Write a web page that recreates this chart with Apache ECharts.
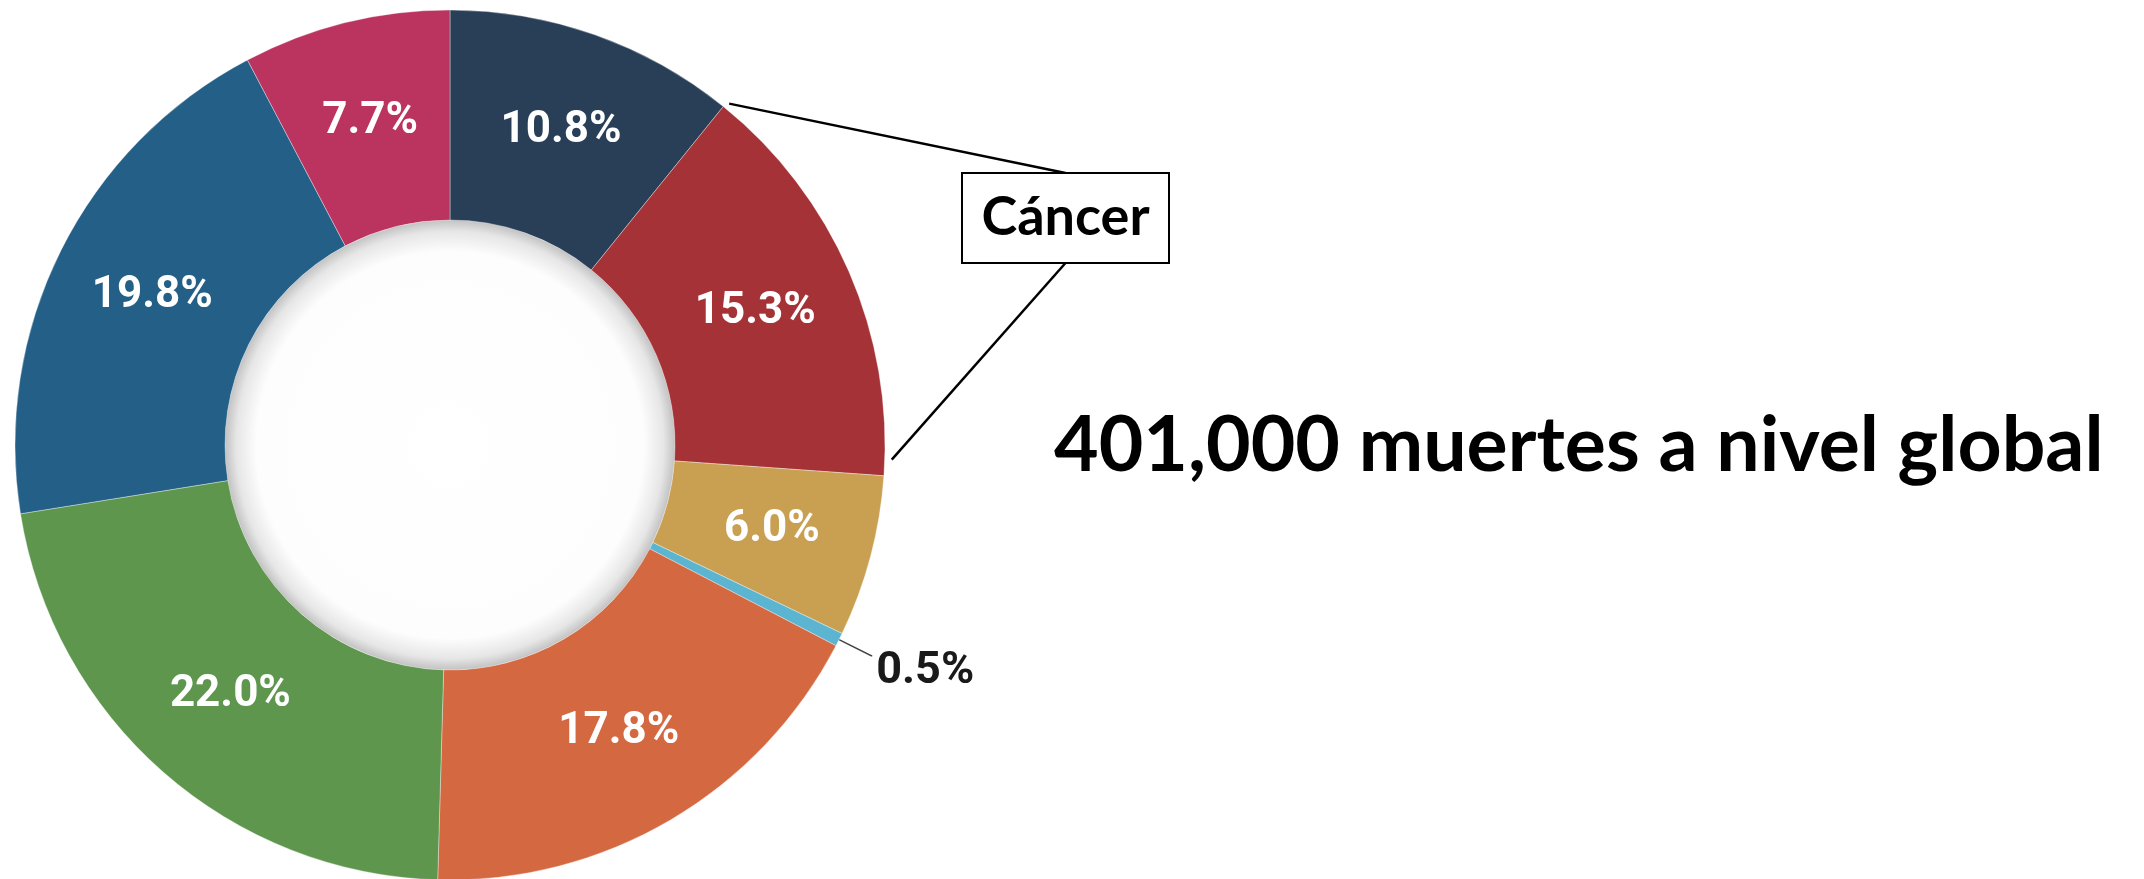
<!DOCTYPE html>
<html>
<head>
<meta charset="utf-8">
<title>401,000 muertes a nivel global</title>
<script src="https://cdn.jsdelivr.net/npm/echarts@6/dist/echarts.min.js"></script>
<style>
  html, body { margin: 0; padding: 0; background: #fff; }
  #chart { width: 2144px; height: 879px; }
</style>
</head>
<body>
<div id="chart"></div>
<script>
// porcentajes, en sentido horario desde arriba
const shares = [10.8, 15.3, 6.0, 0.5, 17.8, 22.0, 19.8, 7.7]
const colors = ['#293f57', '#a53236', '#c9a052', '#5bb5d1', '#d36841', '#5e964e', '#235f87', '#bb335f']
const calloutIndex = 1
const calloutText = 'Cáncer'
const totalText = '401,000 muertes a nivel global'
const outsideIndex = 3 // el 0.5% va fuera con linea

const center = [450, 445]
const radius = [225, 435]
const labelFont = 'Roboto, "Liberation Sans", sans-serif'

const chart = echarts.init(document.getElementById('chart'))

const total = shares.reduce((a, b) => a + b, 0)
// punto en el borde exterior para una fraccion acumulada (0 = arriba)
function ringPoint (frac, r) {
  const a = frac * Math.PI * 2
  return [center[0] + r * Math.sin(a), center[1] - r * Math.cos(a)]
}
const before = shares.slice(0, calloutIndex).reduce((a, b) => a + b, 0)
const p0 = ringPoint(before / total + 0.001, radius[1] + 6)
const p1 = ringPoint((before + shares[calloutIndex]) / total - 0.006, radius[1] + 7)

const box = { x: 962, y: 173, width: 207, height: 90 }

const data = shares.map((v, i) => {
  const item = { value: v, itemStyle: { color: colors[i] } }
  if (i === outsideIndex) {
    item.label = {
      position: 'outside',
      distanceToLabelLine: 4,
      // linea vacia arriba para bajar el texto respecto a la linea
      formatter: p => '{gap| }\n{out|' + p.value.toFixed(1) + '%}'
    }
    item.labelLine = {
      show: true,
      length: 36,
      length2: 1,
      lineStyle: { color: '#444', width: 1.5 }
    }
  }
  return item
})

const option = {
  backgroundColor: '#fff',
  animation: false,
  series: [{
    type: 'pie',
    center: center,
    radius: radius,
    startAngle: 90,
    clockwise: true,
    avoidLabelOverlap: false,
    itemStyle: {
      borderColor: 'rgba(255,255,255,0.35)',
      borderWidth: 1
    },
    label: {
      show: true,
      position: 'inside',
      formatter: p => p.value.toFixed(1) + '%',
      color: '#fff',
      fontFamily: labelFont,
      fontWeight: 'bold',
      fontSize: 44,
      rich: {
        gap: { height: 33, fontSize: 10 },
        out: {
          color: '#1a1a1a',
          fontFamily: labelFont,
          fontWeight: 'bold',
          fontSize: 45,
          lineHeight: 52
        }
      }
    },
    labelLine: { show: false },
    emphasis: { disabled: true },
    data: data,
    z: 2
  }],
  graphic: [
    {
      type: 'circle',
      z: 1,
      shape: { cx: center[0], cy: center[1], r: radius[0] },
      style: {
        fill: new echarts.graphic.RadialGradient(0.5, 0.5, 0.5, [
          { offset: 0, color: '#ffffff' },
          { offset: 0.86, color: '#fdfdfd' },
          { offset: 0.95, color: '#e6e6e6' },
          { offset: 1, color: '#c2c2c2' }
        ])
      }
    },
    {
      type: 'polyline',
      z: 10,
      shape: { points: [p0, [box.x + box.width / 2, box.y]] },
      style: { stroke: '#000', lineWidth: 2.5, fill: null }
    },
    {
      type: 'polyline',
      z: 10,
      shape: { points: [[box.x + box.width / 2, box.y + box.height], p1] },
      style: { stroke: '#000', lineWidth: 2.5, fill: null }
    },
    {
      type: 'rect',
      z: 10,
      shape: box,
      style: { fill: '#fff', stroke: '#000', lineWidth: 2 }
    },
    {
      type: 'text',
      z: 11,
      x: box.x + box.width / 2,
      y: box.y + box.height / 2,
      style: {
        text: calloutText,
        align: 'center',
        verticalAlign: 'middle',
        fill: '#000',
        fontFamily: 'Lato, "Open Sans", sans-serif',
        fontWeight: 'bold',
        fontSize: 54
      }
    },
    {
      type: 'text',
      z: 11,
      x: 1054,
      y: 446,
      style: {
        text: totalText,
        align: 'left',
        verticalAlign: 'middle',
        fill: '#000',
        fontFamily: 'Lato, "Open Sans", sans-serif',
        fontWeight: 'bold',
        fontSize: 77
      }
    }
  ]
}

chart.setOption(option)
window.addEventListener('resize', function () {
  chart.resize()
})
</script>
</body>
</html>
